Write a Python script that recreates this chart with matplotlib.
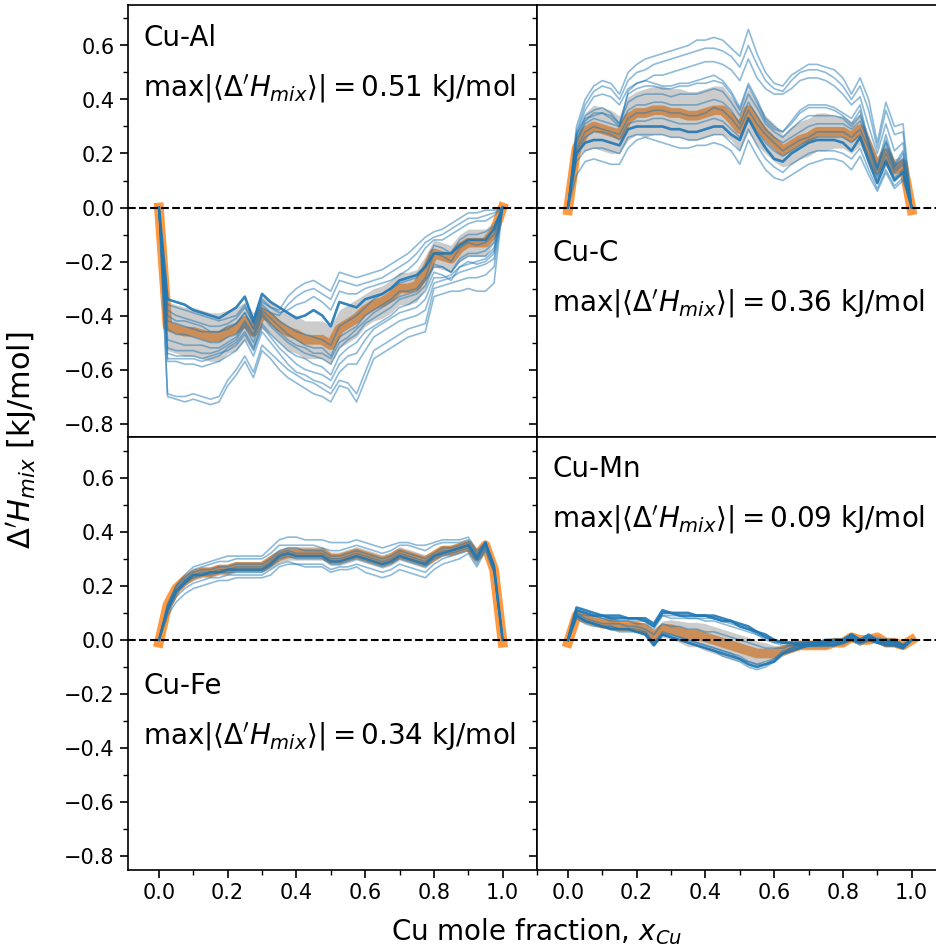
# Mixing enthalpy of Cu binaries: individual runs, mean and spread
import numpy as np
import matplotlib.pyplot as plt
from matplotlib.ticker import MultipleLocator

# composition grid (Cu mole fraction)
x_cu = np.round(np.arange(41) * 0.025, 3)

# ---------------- Cu-Al ----------------
mean_al = [0.00, -0.44, -0.45, -0.46, -0.46, -0.47, -0.48, -0.48, -0.46, -0.45, -0.42, -0.46, -0.39, -0.41,
           -0.44, -0.46, -0.47, -0.49, -0.49, -0.49, -0.51, -0.45, -0.43, -0.41, -0.38, -0.36, -0.35, -0.33,
           -0.30, -0.30, -0.29, -0.24, -0.17, -0.18, -0.19, -0.15, -0.13, -0.13, -0.13, -0.09, 0.00]
std_al = [0.00, 0.09, 0.09, 0.09, 0.09, 0.09, 0.09, 0.09, 0.08, 0.08, 0.07, 0.07, 0.06, 0.06, 0.06, 0.07,
          0.07, 0.07, 0.07, 0.07, 0.07, 0.07, 0.07, 0.07, 0.06, 0.06, 0.06, 0.06, 0.06, 0.06, 0.06, 0.06,
          0.05, 0.05, 0.05, 0.05, 0.05, 0.05, 0.05, 0.04, 0.00]
runs_al = [
    [0, -0.34, -0.35, -0.36, -0.38, -0.39, -0.40, -0.41, -0.39, -0.37, -0.33, -0.42, -0.32, -0.35, -0.37, -0.39, -0.41, -0.40, -0.38, -0.40, -0.44, -0.35, -0.36, -0.37, -0.34, -0.33, -0.32, -0.30, -0.27, -0.26, -0.25, -0.22, -0.17, -0.17, -0.17, -0.14, -0.12, -0.12, -0.12, -0.08, 0],
    [0, -0.38, -0.40, -0.41, -0.42, -0.43, -0.44, -0.44, -0.43, -0.41, -0.37, -0.43, -0.35, -0.37, -0.38, -0.33, -0.30, -0.28, -0.27, -0.29, -0.31, -0.24, -0.25, -0.26, -0.25, -0.24, -0.23, -0.21, -0.19, -0.17, -0.14, -0.11, -0.09, -0.08, -0.06, -0.04, -0.02, -0.02, -0.01, -0.01, 0],
    [0, -0.42, -0.43, -0.44, -0.45, -0.46, -0.46, -0.46, -0.45, -0.43, -0.39, -0.45, -0.37, -0.39, -0.40, -0.36, -0.33, -0.31, -0.30, -0.32, -0.34, -0.27, -0.28, -0.29, -0.28, -0.27, -0.26, -0.24, -0.22, -0.20, -0.17, -0.13, -0.11, -0.10, -0.08, -0.06, -0.04, -0.04, -0.03, -0.02, 0],
    [0, -0.36, -0.37, -0.38, -0.39, -0.40, -0.41, -0.42, -0.41, -0.40, -0.36, -0.43, -0.34, -0.37, -0.39, -0.38, -0.36, -0.35, -0.33, -0.35, -0.38, -0.31, -0.32, -0.32, -0.30, -0.29, -0.28, -0.27, -0.25, -0.23, -0.20, -0.15, -0.12, -0.12, -0.10, -0.08, -0.06, -0.05, -0.05, -0.03, 0],
    [0, -0.45, -0.47, -0.47, -0.48, -0.49, -0.50, -0.50, -0.48, -0.47, -0.42, -0.47, -0.38, -0.41, -0.44, -0.47, -0.49, -0.51, -0.52, -0.52, -0.55, -0.48, -0.46, -0.44, -0.40, -0.38, -0.36, -0.34, -0.31, -0.31, -0.30, -0.26, -0.17, -0.18, -0.20, -0.15, -0.13, -0.14, -0.13, -0.10, 0],
    [0, -0.52, -0.53, -0.53, -0.53, -0.54, -0.54, -0.53, -0.51, -0.49, -0.44, -0.50, -0.40, -0.44, -0.47, -0.50, -0.52, -0.54, -0.55, -0.56, -0.58, -0.52, -0.49, -0.47, -0.43, -0.41, -0.39, -0.37, -0.34, -0.33, -0.32, -0.29, -0.21, -0.22, -0.24, -0.19, -0.17, -0.17, -0.16, -0.13, 0],
    [0, -0.56, -0.56, -0.56, -0.56, -0.57, -0.56, -0.55, -0.52, -0.50, -0.46, -0.52, -0.43, -0.47, -0.50, -0.53, -0.55, -0.56, -0.58, -0.59, -0.62, -0.55, -0.52, -0.50, -0.46, -0.44, -0.42, -0.40, -0.37, -0.36, -0.34, -0.31, -0.24, -0.25, -0.27, -0.22, -0.20, -0.21, -0.20, -0.17, 0],
    [0, -0.40, -0.42, -0.42, -0.43, -0.44, -0.46, -0.46, -0.44, -0.43, -0.39, -0.45, -0.36, -0.39, -0.42, -0.44, -0.46, -0.47, -0.48, -0.49, -0.51, -0.44, -0.42, -0.40, -0.37, -0.34, -0.32, -0.30, -0.28, -0.27, -0.26, -0.22, -0.14, -0.15, -0.17, -0.12, -0.10, -0.10, -0.09, -0.07, 0],
    [0, -0.49, -0.50, -0.51, -0.51, -0.51, -0.52, -0.52, -0.50, -0.48, -0.43, -0.48, -0.39, -0.43, -0.46, -0.49, -0.51, -0.52, -0.54, -0.54, -0.56, -0.50, -0.48, -0.45, -0.42, -0.39, -0.37, -0.35, -0.33, -0.32, -0.31, -0.27, -0.22, -0.22, -0.24, -0.20, -0.18, -0.18, -0.18, -0.15, 0],
    [0, -0.70, -0.71, -0.72, -0.71, -0.72, -0.73, -0.72, -0.66, -0.62, -0.57, -0.63, -0.53, -0.56, -0.60, -0.63, -0.65, -0.67, -0.69, -0.70, -0.72, -0.66, -0.67, -0.72, -0.64, -0.56, -0.54, -0.52, -0.50, -0.48, -0.47, -0.46, -0.33, -0.32, -0.31, -0.31, -0.30, -0.31, -0.31, -0.28, 0],
    [0, -0.69, -0.70, -0.70, -0.69, -0.70, -0.71, -0.70, -0.64, -0.60, -0.55, -0.61, -0.51, -0.54, -0.57, -0.60, -0.62, -0.64, -0.65, -0.67, -0.69, -0.64, -0.65, -0.69, -0.61, -0.53, -0.51, -0.49, -0.47, -0.45, -0.44, -0.43, -0.30, -0.29, -0.28, -0.27, -0.26, -0.26, -0.25, -0.22, 0],
    [0, -0.57, -0.57, -0.58, -0.58, -0.59, -0.58, -0.57, -0.55, -0.53, -0.49, -0.55, -0.46, -0.50, -0.54, -0.58, -0.61, -0.62, -0.64, -0.65, -0.67, -0.61, -0.58, -0.58, -0.53, -0.48, -0.46, -0.44, -0.42, -0.41, -0.40, -0.38, -0.28, -0.27, -0.26, -0.24, -0.23, -0.22, -0.21, -0.19, 0],
    [0, -0.54, -0.55, -0.55, -0.55, -0.56, -0.55, -0.54, -0.53, -0.51, -0.47, -0.53, -0.44, -0.48, -0.52, -0.55, -0.58, -0.60, -0.61, -0.62, -0.64, -0.58, -0.55, -0.54, -0.49, -0.45, -0.43, -0.41, -0.39, -0.38, -0.37, -0.34, -0.26, -0.26, -0.25, -0.22, -0.21, -0.20, -0.19, -0.16, 0],
]
dark_al = [0]

# ---------------- Cu-C ----------------
mean_c = [-0.01, 0.22, 0.28, 0.30, 0.29, 0.28, 0.27, 0.33, 0.35, 0.35, 0.36, 0.36, 0.35, 0.35, 0.34, 0.34,
          0.35, 0.36, 0.36, 0.33, 0.29, 0.36, 0.31, 0.27, 0.24, 0.21, 0.23, 0.25, 0.26, 0.28, 0.28, 0.28,
          0.28, 0.26, 0.29, 0.22, 0.14, 0.20, 0.14, 0.16, -0.01]
std_c = [0.00, 0.03, 0.07, 0.08, 0.08, 0.08, 0.07, 0.08, 0.08, 0.09, 0.09, 0.09, 0.09, 0.09, 0.09, 0.09,
         0.09, 0.09, 0.09, 0.08, 0.08, 0.08, 0.08, 0.07, 0.07, 0.06, 0.07, 0.07, 0.07, 0.07, 0.07, 0.06,
         0.06, 0.06, 0.06, 0.05, 0.05, 0.05, 0.04, 0.03, 0.00]
runs_c = [
    [0, 0.20, 0.24, 0.25, 0.25, 0.24, 0.23, 0.29, 0.30, 0.30, 0.30, 0.30, 0.29, 0.29, 0.28, 0.28, 0.29, 0.30, 0.30, 0.27, 0.25, 0.33, 0.27, 0.22, 0.18, 0.17, 0.20, 0.22, 0.24, 0.25, 0.25, 0.25, 0.24, 0.21, 0.26, 0.17, 0.09, 0.17, 0.10, 0.13, 0],
    [0, 0.27, 0.33, 0.34, 0.35, 0.33, 0.30, 0.43, 0.46, 0.47, 0.46, 0.45, 0.45, 0.46, 0.46, 0.47, 0.48, 0.49, 0.47, 0.43, 0.37, 0.46, 0.40, 0.33, 0.30, 0.28, 0.32, 0.36, 0.38, 0.38, 0.38, 0.37, 0.35, 0.33, 0.38, 0.24, 0.15, 0.27, 0.16, 0.21, 0],
    [0, 0.30, 0.40, 0.45, 0.47, 0.46, 0.42, 0.50, 0.53, 0.55, 0.56, 0.57, 0.58, 0.59, 0.60, 0.62, 0.62, 0.63, 0.62, 0.59, 0.56, 0.66, 0.57, 0.50, 0.46, 0.45, 0.49, 0.51, 0.53, 0.53, 0.52, 0.51, 0.48, 0.42, 0.48, 0.40, 0.24, 0.39, 0.30, 0.31, 0],
    [0, 0.28, 0.38, 0.43, 0.45, 0.44, 0.40, 0.47, 0.50, 0.51, 0.53, 0.54, 0.55, 0.56, 0.57, 0.58, 0.59, 0.59, 0.58, 0.56, 0.52, 0.60, 0.53, 0.47, 0.44, 0.43, 0.47, 0.50, 0.51, 0.51, 0.50, 0.48, 0.45, 0.40, 0.45, 0.36, 0.22, 0.36, 0.27, 0.28, 0],
    [0, 0.27, 0.36, 0.41, 0.42, 0.41, 0.38, 0.44, 0.46, 0.47, 0.49, 0.49, 0.50, 0.51, 0.52, 0.53, 0.54, 0.54, 0.53, 0.51, 0.47, 0.55, 0.48, 0.44, 0.42, 0.42, 0.44, 0.47, 0.48, 0.48, 0.47, 0.45, 0.42, 0.38, 0.41, 0.30, 0.20, 0.31, 0.21, 0.24, 0],
    [0, 0.26, 0.34, 0.36, 0.37, 0.35, 0.31, 0.42, 0.44, 0.45, 0.45, 0.44, 0.44, 0.45, 0.45, 0.46, 0.46, 0.47, 0.46, 0.42, 0.36, 0.45, 0.39, 0.32, 0.29, 0.28, 0.31, 0.35, 0.37, 0.37, 0.37, 0.36, 0.34, 0.31, 0.36, 0.23, 0.14, 0.25, 0.15, 0.20, 0],
    [0, 0.25, 0.32, 0.35, 0.35, 0.34, 0.31, 0.39, 0.41, 0.42, 0.42, 0.42, 0.41, 0.42, 0.42, 0.42, 0.43, 0.44, 0.43, 0.39, 0.34, 0.42, 0.37, 0.31, 0.28, 0.26, 0.29, 0.32, 0.34, 0.34, 0.34, 0.34, 0.33, 0.30, 0.34, 0.25, 0.15, 0.24, 0.15, 0.18, 0],
    [0, 0.24, 0.31, 0.33, 0.32, 0.31, 0.30, 0.36, 0.38, 0.38, 0.39, 0.39, 0.38, 0.38, 0.38, 0.38, 0.39, 0.40, 0.39, 0.36, 0.31, 0.39, 0.34, 0.29, 0.26, 0.24, 0.26, 0.28, 0.30, 0.31, 0.31, 0.31, 0.31, 0.29, 0.32, 0.24, 0.14, 0.22, 0.14, 0.17, 0],
    [0, 0.22, 0.28, 0.30, 0.29, 0.28, 0.27, 0.33, 0.35, 0.35, 0.36, 0.36, 0.35, 0.35, 0.34, 0.34, 0.35, 0.37, 0.36, 0.33, 0.29, 0.36, 0.31, 0.27, 0.24, 0.21, 0.23, 0.25, 0.26, 0.28, 0.28, 0.28, 0.28, 0.26, 0.29, 0.22, 0.12, 0.20, 0.13, 0.16, 0],
    [0, 0.12, 0.17, 0.18, 0.17, 0.16, 0.16, 0.22, 0.25, 0.26, 0.25, 0.24, 0.23, 0.22, 0.22, 0.23, 0.23, 0.24, 0.23, 0.21, 0.16, 0.25, 0.19, 0.14, 0.11, 0.10, 0.12, 0.14, 0.16, 0.17, 0.18, 0.18, 0.17, 0.14, 0.19, 0.12, 0.06, 0.13, 0.07, 0.10, 0],
    [0, 0.17, 0.21, 0.22, 0.22, 0.21, 0.20, 0.26, 0.27, 0.27, 0.27, 0.27, 0.26, 0.26, 0.25, 0.25, 0.26, 0.27, 0.27, 0.24, 0.21, 0.29, 0.23, 0.18, 0.15, 0.13, 0.16, 0.18, 0.20, 0.21, 0.21, 0.21, 0.20, 0.18, 0.22, 0.14, 0.07, 0.14, 0.08, 0.11, 0],
    [0, 0.21, 0.26, 0.28, 0.28, 0.27, 0.25, 0.31, 0.32, 0.32, 0.33, 0.33, 0.32, 0.31, 0.31, 0.31, 0.32, 0.33, 0.32, 0.29, 0.26, 0.33, 0.28, 0.24, 0.21, 0.19, 0.21, 0.23, 0.25, 0.26, 0.26, 0.26, 0.26, 0.24, 0.27, 0.19, 0.11, 0.18, 0.11, 0.14, 0],
]
dark_c = [0]

# ---------------- Cu-Fe ----------------
mean_fe = [-0.01, 0.13, 0.19, 0.22, 0.24, 0.25, 0.25, 0.26, 0.26, 0.27, 0.27, 0.27, 0.27, 0.29, 0.31, 0.32,
           0.32, 0.32, 0.32, 0.32, 0.30, 0.30, 0.31, 0.32, 0.31, 0.30, 0.29, 0.30, 0.32, 0.31, 0.30, 0.29,
           0.31, 0.33, 0.33, 0.34, 0.35, 0.31, 0.35, 0.26, -0.01]
std_fe = [0.00, 0.01, 0.02, 0.02, 0.02, 0.02, 0.02, 0.02, 0.02, 0.02, 0.02, 0.02, 0.02, 0.025, 0.025, 0.025,
          0.025, 0.025, 0.025, 0.025, 0.025, 0.025, 0.025, 0.025, 0.025, 0.025, 0.025, 0.025, 0.025, 0.025,
          0.025, 0.025, 0.02, 0.02, 0.02, 0.02, 0.02, 0.02, 0.02, 0.02, 0.00]
runs_fe = [
    [0, 0.13, 0.20, 0.24, 0.27, 0.28, 0.29, 0.30, 0.31, 0.31, 0.31, 0.31, 0.31, 0.34, 0.37, 0.38, 0.38, 0.37, 0.37, 0.37, 0.36, 0.36, 0.36, 0.37, 0.36, 0.35, 0.34, 0.35, 0.36, 0.36, 0.35, 0.35, 0.36, 0.37, 0.37, 0.37, 0.38, 0.33, 0.36, 0.27, 0],
    [0, 0.13, 0.20, 0.23, 0.26, 0.27, 0.28, 0.29, 0.29, 0.30, 0.30, 0.30, 0.30, 0.32, 0.35, 0.35, 0.35, 0.35, 0.35, 0.34, 0.33, 0.33, 0.34, 0.35, 0.34, 0.33, 0.32, 0.33, 0.35, 0.35, 0.34, 0.33, 0.35, 0.36, 0.36, 0.36, 0.37, 0.32, 0.36, 0.28, 0],
    [0, 0.12, 0.19, 0.22, 0.25, 0.26, 0.26, 0.27, 0.27, 0.28, 0.28, 0.28, 0.28, 0.30, 0.33, 0.34, 0.34, 0.33, 0.33, 0.33, 0.31, 0.31, 0.32, 0.33, 0.32, 0.31, 0.30, 0.31, 0.33, 0.32, 0.31, 0.30, 0.32, 0.34, 0.34, 0.35, 0.36, 0.31, 0.36, 0.27, 0],
    [0, 0.12, 0.18, 0.22, 0.24, 0.25, 0.25, 0.26, 0.26, 0.27, 0.27, 0.27, 0.27, 0.29, 0.32, 0.33, 0.32, 0.32, 0.32, 0.32, 0.30, 0.30, 0.31, 0.32, 0.31, 0.30, 0.29, 0.30, 0.32, 0.31, 0.30, 0.29, 0.31, 0.33, 0.33, 0.34, 0.35, 0.31, 0.35, 0.26, 0],
    [0, 0.11, 0.18, 0.21, 0.24, 0.24, 0.25, 0.25, 0.26, 0.26, 0.26, 0.26, 0.26, 0.28, 0.31, 0.32, 0.31, 0.31, 0.31, 0.31, 0.29, 0.29, 0.30, 0.31, 0.30, 0.29, 0.28, 0.29, 0.31, 0.30, 0.29, 0.28, 0.31, 0.32, 0.33, 0.34, 0.35, 0.30, 0.36, 0.27, 0],
    [0, 0.11, 0.17, 0.21, 0.23, 0.24, 0.24, 0.25, 0.25, 0.25, 0.25, 0.25, 0.25, 0.27, 0.30, 0.31, 0.30, 0.30, 0.30, 0.30, 0.28, 0.28, 0.29, 0.30, 0.29, 0.28, 0.27, 0.28, 0.30, 0.29, 0.28, 0.27, 0.30, 0.31, 0.32, 0.33, 0.34, 0.29, 0.35, 0.26, 0],
    [0, 0.10, 0.16, 0.19, 0.21, 0.22, 0.23, 0.23, 0.24, 0.24, 0.24, 0.24, 0.24, 0.26, 0.28, 0.29, 0.28, 0.28, 0.28, 0.28, 0.26, 0.27, 0.27, 0.28, 0.27, 0.26, 0.25, 0.26, 0.28, 0.27, 0.26, 0.25, 0.28, 0.30, 0.31, 0.32, 0.33, 0.28, 0.34, 0.25, 0],
    [0, 0.09, 0.14, 0.17, 0.19, 0.20, 0.21, 0.22, 0.22, 0.23, 0.23, 0.23, 0.23, 0.24, 0.27, 0.28, 0.28, 0.27, 0.27, 0.27, 0.25, 0.26, 0.26, 0.27, 0.25, 0.24, 0.23, 0.24, 0.26, 0.25, 0.24, 0.23, 0.26, 0.28, 0.29, 0.30, 0.32, 0.27, 0.33, 0.25, 0],
]
dark_fe = [4]

# ---------------- Cu-Mn ----------------
mean_mn = [-0.01, 0.09, 0.08, 0.07, 0.06, 0.06, 0.05, 0.05, 0.05, 0.04, 0.01, 0.04, 0.04, 0.03, 0.02, 0.02,
           0.01, 0.00, -0.01, -0.02, -0.03, -0.04, -0.05, -0.05, -0.05, -0.04, -0.03, -0.02, -0.02, -0.02,
           -0.02, -0.01, -0.01, 0.01, 0.00, 0.00, 0.01, -0.01, -0.01, -0.02, 0.00]
std_mn = [0.00, 0.01, 0.015, 0.015, 0.015, 0.015, 0.015, 0.015, 0.015, 0.015, 0.03, 0.03, 0.035, 0.04, 0.045,
          0.045, 0.05, 0.05, 0.05, 0.05, 0.05, 0.05, 0.045, 0.04, 0.03, 0.02, 0.015, 0.01, 0.01, 0.01, 0.01,
          0.01, 0.01, 0.01, 0.01, 0.01, 0.01, 0.01, 0.01, 0.01, 0.00]
runs_mn = [
    [0, 0.12, 0.11, 0.10, 0.09, 0.09, 0.09, 0.08, 0.08, 0.08, 0.06, 0.11, 0.10, 0.10, 0.10, 0.09, 0.09, 0.09, 0.08, 0.07, 0.06, 0.05, 0.03, 0.02, 0.00, -0.01, -0.01, -0.01, -0.01, -0.01, 0.00, 0.00, 0.00, 0.02, 0.00, 0.02, 0.00, 0.00, 0.00, -0.02, 0],
    [0, 0.11, 0.10, 0.09, 0.09, 0.08, 0.08, 0.08, 0.08, 0.07, 0.05, 0.10, 0.10, 0.09, 0.09, 0.09, 0.09, 0.08, 0.07, 0.07, 0.05, 0.04, 0.03, 0.01, 0.00, -0.01, -0.01, -0.02, -0.01, -0.01, -0.01, 0.00, 0.00, 0.02, 0.00, 0.01, 0.00, 0.00, -0.01, -0.02, 0],
    [0, 0.11, 0.10, 0.09, 0.08, 0.08, 0.07, 0.07, 0.07, 0.07, 0.05, 0.09, 0.09, 0.09, 0.08, 0.08, 0.08, 0.08, 0.07, 0.06, 0.05, 0.04, 0.02, 0.01, -0.01, -0.01, -0.02, -0.02, -0.02, -0.01, -0.01, -0.01, 0.00, 0.01, -0.01, 0.01, 0.00, -0.01, -0.01, -0.02, 0],
    [0, 0.10, 0.09, 0.09, 0.08, 0.07, 0.07, 0.07, 0.06, 0.06, 0.04, 0.09, 0.08, 0.08, 0.08, 0.08, 0.07, 0.07, 0.06, 0.05, 0.04, 0.03, 0.02, 0.00, -0.01, -0.02, -0.02, -0.02, -0.02, -0.02, -0.01, -0.01, -0.01, 0.01, -0.01, 0.01, -0.01, -0.01, -0.01, -0.03, 0],
    [0, 0.10, 0.08, 0.07, 0.06, 0.06, 0.06, 0.05, 0.05, 0.04, 0.02, 0.06, 0.05, 0.05, 0.04, 0.04, 0.03, 0.03, 0.02, 0.01, 0.00, -0.01, -0.02, -0.03, -0.03, -0.03, -0.02, -0.02, -0.02, -0.02, -0.01, -0.01, -0.01, 0.01, -0.01, 0.01, -0.01, -0.01, -0.01, -0.02, 0],
    [0, 0.09, 0.07, 0.06, 0.05, 0.05, 0.04, 0.04, 0.04, 0.03, -0.01, 0.03, 0.02, 0.01, 0.00, -0.01, -0.02, -0.03, -0.04, -0.05, -0.06, -0.08, -0.09, -0.08, -0.07, -0.05, -0.03, -0.02, -0.02, -0.02, -0.01, -0.02, -0.01, 0.01, -0.01, 0.00, -0.01, -0.01, -0.01, -0.02, 0],
    [0, 0.09, 0.07, 0.06, 0.05, 0.04, 0.04, 0.04, 0.03, 0.02, -0.02, 0.02, 0.01, 0.00, -0.01, -0.02, -0.03, -0.04, -0.05, -0.06, -0.07, -0.09, -0.10, -0.09, -0.08, -0.05, -0.04, -0.03, -0.02, -0.02, -0.02, -0.02, -0.01, 0.00, -0.01, 0.00, -0.01, -0.02, -0.02, -0.03, 0],
    [0, 0.09, 0.07, 0.06, 0.05, 0.05, 0.04, 0.04, 0.03, 0.03, -0.01, 0.02, 0.02, 0.01, 0.00, -0.01, -0.02, -0.03, -0.04, -0.05, -0.07, -0.08, -0.09, -0.09, -0.07, -0.04, -0.03, -0.02, -0.02, -0.02, -0.01, -0.01, -0.01, 0.01, -0.01, 0.01, -0.01, -0.01, -0.02, -0.03, 0],
    [0, 0.08, 0.06, 0.05, 0.05, 0.04, 0.03, 0.03, 0.03, 0.02, -0.02, 0.02, 0.01, 0.00, -0.01, -0.02, -0.03, -0.04, -0.06, -0.07, -0.08, -0.10, -0.11, -0.10, -0.08, -0.05, -0.03, -0.03, -0.02, -0.02, -0.02, -0.02, -0.01, 0.00, -0.02, 0.00, -0.01, -0.02, -0.02, -0.03, 0],
]
dark_mn = [0, 1, 6]

systems = ['Cu-Al', 'Cu-C', 'Cu-Fe', 'Cu-Mn']
max_mean = ['0.51', '0.36', '0.34', '0.09']


def draw_panel(ax, runs, mean, std, dark, name, maxval, ty):
    mean = np.array(mean)
    std = np.array(std)
    # mean line underneath, spread band on top of it
    ax.plot(x_cu, mean, color='C1', lw=7, alpha=0.8, zorder=1)
    ax.fill_between(x_cu, mean - std, mean + std, color='gray', alpha=0.4, lw=0, zorder=2)
    for k, run in enumerate(runs):
        if k in dark:
            ax.plot(x_cu, run, color='C0', lw=1.9, alpha=0.9, zorder=3)
        else:
            ax.plot(x_cu, run, color='C0', lw=1.2, alpha=0.5, zorder=3)
    ax.axhline(0, color='k', ls='--', lw=1.5, zorder=4)
    ax.text(0.037, ty, name, transform=ax.transAxes, fontsize=20, va='center', ha='left')
    ax.text(0.037, ty - 0.117,
            r'max$|\langle \Delta^{\prime} H_{mix} \rangle| = %s$ kJ/mol' % maxval,
            transform=ax.transAxes, fontsize=20, va='center', ha='left')


fig = plt.figure(figsize=(9.37, 9.51), dpi=100)

# axes boxes in figure fraction (right column runs slightly past the edge)
x0, xm, x1 = 128 / 937, 537 / 937, 946 / 937
yb, ym, yt = 81 / 951, 514 / 951, 946 / 951
boxes = [[x0, ym, xm - x0, yt - ym], [xm, ym, x1 - xm, yt - ym],
         [x0, yb, xm - x0, ym - yb], [xm, yb, x1 - xm, ym - yb]]

panels = [(runs_al, mean_al, std_al, dark_al, 0.924),
          (runs_c, mean_c, std_c, dark_c, 0.426),
          (runs_fe, mean_fe, std_fe, dark_fe, 0.425),
          (runs_mn, mean_mn, std_mn, dark_mn, 0.926)]

for i, box in enumerate(boxes):
    ax = fig.add_axes(box)
    runs, mean, std, dark, ty = panels[i]
    draw_panel(ax, runs, mean, std, dark, systems[i], max_mean[i], ty)
    ax.set_xlim(-0.09, 1.1)
    ax.set_ylim(-0.85, 0.75)
    ax.xaxis.set_major_locator(MultipleLocator(0.2))
    ax.xaxis.set_minor_locator(MultipleLocator(0.1))
    ax.yaxis.set_major_locator(MultipleLocator(0.2))
    ax.yaxis.set_minor_locator(MultipleLocator(0.1))
    ax.tick_params(which='major', length=6, width=1.2, labelsize=15)
    ax.tick_params(which='minor', length=3.5, width=1.0)
    for sp in ax.spines.values():
        sp.set_linewidth(1.2)
    if i % 2 == 1:
        ax.tick_params(labelleft=False)
    if i < 2:
        ax.tick_params(axis='x', which='both', bottom=False, labelbottom=False)

fig.text(537 / 937, 1 - 932 / 951, r'Cu mole fraction, $x_{Cu}$', fontsize=20, ha='center', va='center')
fig.text(22 / 937, 1 - 440 / 951, r"$\Delta' H_{mix}$ [kJ/mol]", fontsize=22, ha='center', va='center',
         rotation=90)

fig.savefig('out.png', dpi=100)
